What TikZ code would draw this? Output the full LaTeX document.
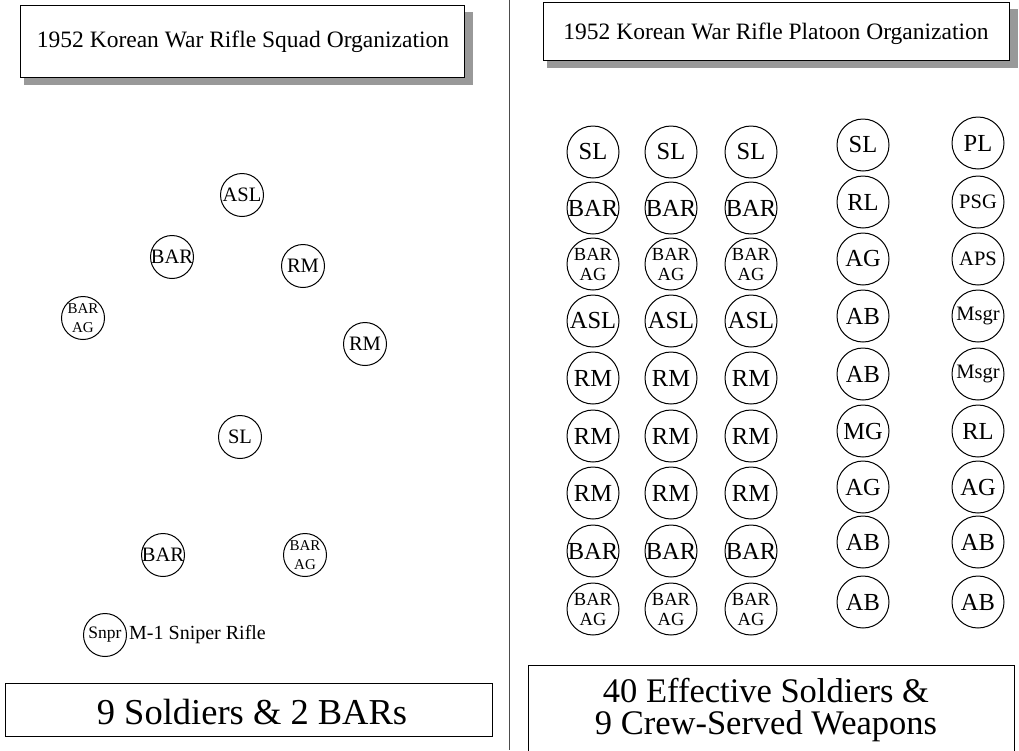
\documentclass[tikz,border=0pt]{standalone}
\usepackage{fontspec}
\setmainfont{Liberation Serif}
\newcommand\cl[1]{\makebox[0pt]{#1}}
\tikzset{
  ring/.style={circle, draw, line width=1pt, inner sep=0pt},
  sq/.style={ring, minimum size=43pt, font=\fontsize{20.5}{21}\selectfont},
  sqtwo/.style={ring, minimum size=43pt, align=center, font=\fontsize{15}{18.5}\selectfont},
  pl/.style={ring, minimum size=52pt, font=\fontsize{24.5}{25}\selectfont},
  plsmall/.style={ring, minimum size=52pt, font=\fontsize{20.5}{21}\selectfont},
  pltwo/.style={ring, minimum size=52pt, align=center, font=\fontsize{18.5}{20}\selectfont},
  titlebox/.style={draw, line width=0.9pt, fill=white},
  shadow/.style={fill=black!40},
}
\begin{document}
\begin{tikzpicture}[x=1pt,y=-1pt]
\useasboundingbox (0,0) rectangle (1019,750);
% divider
\draw[line width=0.9pt, black!70] (509,0) -- (509,750);
% left title
\fill[shadow] (24,12) rectangle (473,85);
\draw[titlebox] (20,5) rectangle (464,77);
\node[font=\fontsize{23.5}{26}\selectfont] (tl) at (243,42) {1952 Korean War Rifle Squad Organization};
% right title
\fill[shadow] (547,9) rectangle (1018,68);
\draw[titlebox] (543,2) rectangle (1009,60);
\node[font=\fontsize{23.5}{26}\selectfont] (tr) at (776,34) {1952 Korean War Rifle Platoon Organization};
% squad
\node[sq] (asl) at (242,195) {\cl{ASL}};
\node[sq] (bar1) at (172,257) {\cl{BAR}};
\node[sq] (rm1) at (303,266) {\cl{RM}};
\node[sqtwo] (ag1) at (83,318) {\cl{BAR}\\\cl{AG}};
\node[sq] (rm2) at (365,344) {\cl{RM}};
\node[sq] (sl) at (240,437) {\cl{SL}};
\node[sq] (bar2) at (163,555) {\cl{BAR}};
\node[sqtwo] (ag2) at (305,555) {\cl{BAR}\\\cl{AG}};
\node[sq, font=\fontsize{17.5}{18}\selectfont] (snpr) at (105,635) {\cl{Snpr}};
\node[anchor=west, inner sep=0pt, font=\fontsize{20}{22}\selectfont] (snprl) at (129,635) {M-1 Sniper Rifle};
% left bottom box
\draw[line width=0.9pt] (5,683) rectangle (492,736);
\node[font=\fontsize{36.5}{40}\selectfont] (sum1) at (252,712) {9 Soldiers \& 2 BARs};
% platoon: three squads
\foreach \c/\x in {1/593,2/671,3/751}{
  \node[pl] (s\c r1) at (\x,152) {\cl{SL}};
  \node[pl] (s\c r2) at (\x,208) {\cl{BAR}};
  \node[pltwo] (s\c r3) at (\x,264) {\cl{BAR}\\\cl{AG}};
  \node[pl] (s\c r4) at (\x,321) {\cl{ASL}};
  \node[pl] (s\c r5) at (\x,378) {\cl{RM}};
  \node[pl] (s\c r6) at (\x,436) {\cl{RM}};
  \node[pl] (s\c r7) at (\x,493) {\cl{RM}};
  \node[pl] (s\c r8) at (\x,551) {\cl{BAR}};
  \node[pltwo] (s\c r9) at (\x,609) {\cl{BAR}\\\cl{AG}};
}
% weapons squad
\node[pl] (w1) at (863,145) {\cl{SL}};
\node[pl] (w2) at (863,202) {\cl{RL}};
\node[pl] (w3) at (863,259) {\cl{AG}};
\node[pl] (w4) at (863,316) {\cl{AB}};
\node[pl] (w5) at (863,374) {\cl{AB}};
\node[pl] (w6) at (863,431) {\cl{MG}};
\node[pl] (w7) at (863,487) {\cl{AG}};
\node[pl] (w8) at (863,542) {\cl{AB}};
\node[pl] (w9) at (863,602) {\cl{AB}};
% platoon HQ
\node[pl] (h1) at (978,143) {\cl{PL}};
\node[plsmall] (h2) at (978,202) {\cl{PSG}};
\node[plsmall] (h3) at (978,259) {\cl{APS}};
\node[plsmall] (h4) at (978,316) {\cl{Msgr}};
\node[plsmall] (h5) at (978,374) {\cl{Msgr}};
\node[pl] (h6) at (978,431) {\cl{RL}};
\node[pl] (h7) at (978,487) {\cl{AG}};
\node[pl] (h8) at (978,542) {\cl{AB}};
\node[pl] (h9) at (978,602) {\cl{AB}};
% right bottom box
\draw[line width=0.9pt] (528,752) -- (528,665) -- (1014,665) -- (1014,752);
\node[align=center, font=\fontsize{34.5}{32.5}\selectfont] (sum2) at (766,710) {40 Effective Soldiers \&\\9 Crew-Served Weapons};
\end{tikzpicture}
\end{document}
